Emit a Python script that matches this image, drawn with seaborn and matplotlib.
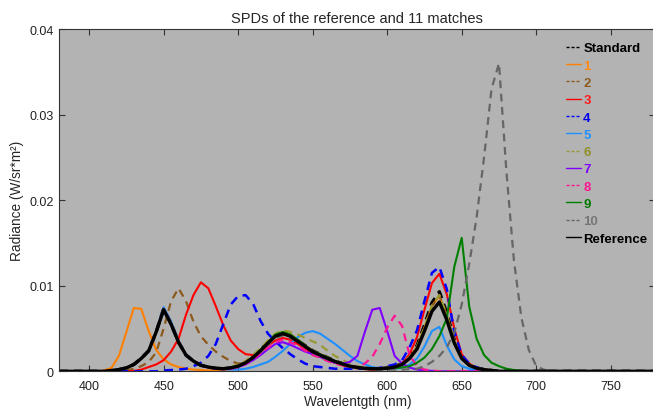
import matplotlib
matplotlib.use("Agg")
import matplotlib.pyplot as plt
from matplotlib.lines import Line2D
import pandas as pd
import seaborn as sns

# --- DATA (radiance in 1e-3 W/sr*m², sampled every 5 nm) ---
wavelength = list(range(380, 781, 5))
pad_lo = [0.0] * 5     # 380-400 nm
pad_hi = [0.0] * 15    # 710-780 nm

# each list below covers 405..705 nm
spd_standard = pad_lo + [
    0, 0, 0.1, 0.2, 0.4, 0.8, 1.5, 2.4, 4.6, 7.3,
    5.6, 3.4, 1.9, 1.2, 0.7, 0.5, 0.35, 0.3, 0.4, 0.6,
    1.0, 1.7, 2.5, 3.4, 4.2, 4.5, 4.2, 3.6, 3.0, 2.4,
    2.0, 1.6, 1.2, 0.9, 0.6, 0.45, 0.35, 0.3, 0.3, 0.4,
    0.55, 0.9, 1.7, 3.0, 5.4, 8.0, 9.3, 6.8, 3.7, 1.7,
    0.8, 0.4, 0.2, 0.1, 0, 0, 0, 0, 0, 0,
    0] + pad_hi

spd_1 = pad_lo + [
    0, 0.1, 0.4, 1.8, 4.6, 7.4, 7.3, 4.7, 2.5, 1.4,
    0.8, 0.5, 0.3, 0.2, 0.15, 0.1, 0.1, 0.15, 0.25, 0.55,
    1.0, 1.7, 2.5, 3.4, 4.3, 4.6, 4.3, 3.7, 3.0, 2.4,
    2.0, 1.6, 1.2, 0.9, 0.6, 0.45, 0.3, 0.25, 0.25, 0.35,
    0.5, 0.85, 1.6, 2.8, 5.1, 7.6, 8.8, 6.5, 3.6, 1.6,
    0.75, 0.4, 0.2, 0.1, 0, 0, 0, 0, 0, 0,
    0] + pad_hi

spd_2 = pad_lo + [
    0, 0, 0, 0, 0.1, 0.3, 0.6, 1.1, 2.2, 5.0,
    8.2, 9.7, 8.2, 5.8, 4.1, 3.1, 2.3, 1.7, 1.2, 0.9,
    1.0, 1.6, 2.4, 3.3, 4.1, 4.5, 4.2, 3.6, 3.0, 2.4,
    2.0, 1.6, 1.2, 0.9, 0.6, 0.45, 0.35, 0.3, 0.3, 0.35,
    0.5, 0.85, 1.6, 2.8, 5.1, 7.6, 8.9, 6.5, 3.6, 1.6,
    0.75, 0.4, 0.2, 0.1, 0, 0, 0, 0, 0, 0,
    0] + pad_hi

spd_3 = pad_lo + [
    0, 0, 0, 0, 0, 0.05, 0.2, 0.5, 0.8, 1.3,
    2.3, 3.8, 6.6, 8.9, 10.4, 9.7, 7.6, 5.4, 3.6, 2.6,
    2.0, 1.9, 2.3, 3.0, 3.6, 3.9, 3.7, 3.2, 2.6, 2.1,
    1.7, 1.3, 1.0, 0.7, 0.5, 0.35, 0.25, 0.2, 0.25, 0.4,
    0.55, 0.9, 2.0, 4.0, 7.2, 10.3, 11.4, 9.0, 5.0, 2.0,
    0.9, 0.4, 0.2, 0.1, 0, 0, 0, 0, 0, 0,
    0] + pad_hi

spd_4 = pad_lo + [
    0, 0, 0, 0, 0, 0, 0, 0, 0, 0.1,
    0.15, 0.2, 0.3, 0.6, 1.0, 1.8, 3.2, 5.5, 7.8, 8.8,
    8.9, 7.9, 5.9, 4.4, 3.5, 2.7, 2.0, 1.4, 0.9, 0.6,
    0.5, 0.4, 0.3, 0.3, 0.3, 0.3, 0.3, 0.3, 0.4, 0.6,
    0.8, 1.3, 2.8, 4.8, 8.2, 11.5, 12.2, 9.6, 4.6, 1.9,
    0.9, 0.45, 0.2, 0.1, 0, 0, 0, 0, 0, 0,
    0] + pad_hi

spd_5 = pad_lo + [
    0, 0, 0.1, 0.2, 0.45, 0.8, 1.5, 2.4, 4.7, 7.5,
    5.8, 3.5, 2.0, 1.2, 0.7, 0.45, 0.3, 0.25, 0.2, 0.2,
    0.3, 0.5, 0.8, 1.1, 1.7, 2.4, 3.2, 4.0, 4.5, 4.7,
    4.4, 3.8, 3.2, 2.5, 1.8, 1.2, 0.8, 0.5, 0.35, 0.3,
    0.3, 0.4, 0.8, 1.5, 2.9, 4.7, 5.2, 3.0, 1.4, 0.6,
    0.3, 0.15, 0.05, 0, 0, 0, 0, 0, 0, 0,
    0] + pad_hi

spd_6 = pad_lo + [
    0, 0, 0.1, 0.2, 0.4, 0.8, 1.5, 2.4, 4.6, 7.3,
    5.6, 3.4, 1.9, 1.2, 0.7, 0.5, 0.4, 0.4, 0.5, 0.8,
    1.2, 1.9, 2.7, 3.6, 4.4, 4.8, 4.6, 4.3, 3.9, 3.5,
    3.1, 2.4, 1.8, 1.3, 0.9, 0.6, 0.45, 0.35, 0.35, 0.4,
    0.55, 0.9, 1.7, 2.9, 5.2, 7.7, 8.9, 6.6, 3.6, 1.6,
    0.75, 0.4, 0.2, 0.1, 0, 0, 0, 0, 0, 0,
    0] + pad_hi

spd_7 = pad_lo + [
    0, 0, 0.1, 0.2, 0.4, 0.8, 1.5, 2.4, 4.6, 7.3,
    5.6, 3.4, 1.9, 1.2, 0.7, 0.45, 0.3, 0.25, 0.3, 0.5,
    0.8, 1.3, 1.9, 2.6, 3.2, 3.4, 3.1, 2.7, 2.3, 2.0,
    1.7, 1.3, 1.0, 0.9, 1.1, 1.8, 4.6, 7.2, 7.4, 4.7,
    1.8, 0.9, 0.45, 0.2, 0.1, 0.05, 0, 0, 0, 0,
    0, 0, 0, 0, 0, 0, 0, 0, 0, 0,
    0] + pad_hi

spd_8 = pad_lo + [
    0, 0, 0.1, 0.2, 0.4, 0.8, 1.5, 2.4, 4.6, 7.3,
    5.6, 3.4, 1.9, 1.2, 0.7, 0.45, 0.3, 0.25, 0.3, 0.5,
    0.9, 1.4, 2.1, 2.8, 3.4, 3.7, 3.4, 3.0, 2.4, 1.9,
    1.6, 1.2, 0.9, 0.7, 0.55, 0.5, 0.9, 1.7, 3.2, 5.1,
    6.5, 5.3, 1.9, 0.6, 0.2, 0.1, 0, 0, 0, 0,
    0, 0, 0, 0, 0, 0, 0, 0, 0, 0,
    0] + pad_hi

spd_9 = pad_lo + [
    0, 0, 0.1, 0.2, 0.4, 0.8, 1.5, 2.4, 4.6, 7.3,
    5.6, 3.4, 1.9, 1.2, 0.7, 0.5, 0.35, 0.3, 0.4, 0.6,
    1.0, 1.7, 2.5, 3.4, 4.3, 4.6, 4.3, 3.7, 3.0, 2.4,
    2.0, 1.6, 1.2, 0.9, 0.6, 0.45, 0.35, 0.3, 0.3, 0.3,
    0.35, 0.45, 0.6, 1.0, 1.6, 2.6, 4.1, 6.2, 12.2, 15.6,
    7.6, 3.8, 1.9, 1.0, 0.6, 0.3, 0.15, 0.05, 0, 0,
    0] + pad_hi

spd_10 = pad_lo + [
    0, 0, 0.1, 0.2, 0.4, 0.8, 1.5, 2.3, 4.5, 7.1,
    5.4, 3.3, 1.8, 1.1, 0.7, 0.45, 0.35, 0.3, 0.4, 0.6,
    1.0, 1.6, 2.3, 3.1, 3.9, 4.2, 3.9, 3.4, 2.8, 2.2,
    1.8, 1.4, 1.1, 0.8, 0.5, 0.4, 0.3, 0.2, 0.2, 0.2,
    0.2, 0.2, 0.25, 0.3, 0.6, 1.1, 1.8, 2.8, 4.5, 7.8,
    12.5, 18.0, 25.0, 33.0, 36.0, 23.3, 13.0, 6.3, 2.5, 0.6,
    0.2] + pad_hi

spd_reference = pad_lo + [
    0, 0, 0.1, 0.2, 0.4, 0.8, 1.5, 2.4, 4.6, 7.2,
    5.5, 3.4, 1.9, 1.2, 0.7, 0.5, 0.35, 0.3, 0.4, 0.6,
    1.0, 1.6, 2.4, 3.3, 4.1, 4.4, 4.1, 3.5, 2.9, 2.3,
    1.9, 1.5, 1.15, 0.85, 0.6, 0.45, 0.35, 0.3, 0.3, 0.35,
    0.5, 0.8, 1.5, 2.6, 4.7, 7.0, 8.1, 6.0, 3.3, 1.5,
    0.7, 0.35, 0.2, 0.1, 0, 0, 0, 0, 0, 0,
    0] + pad_hi

curve_names = ["Standard", "1", "2", "3", "4", "5", "6", "7", "8", "9", "10", "Reference"]
curve_values = [spd_standard, spd_1, spd_2, spd_3, spd_4, spd_5, spd_6,
                spd_7, spd_8, spd_9, spd_10, spd_reference]

x_ticks = [400, 450, 500, 550, 600, 650, 700, 750]
y_ticks = [0, 0.01, 0.02, 0.03, 0.04]
y_tick_labels = ["0", "0.01", "0.02", "0.03", "0.04"]

# --- STYLE ---
estilos = {
    "Standard":  dict(color="black",   ls="--", lw=2.4, txt="black"),
    "1":         dict(color="#ff8000", ls="-",  lw=1.5, txt="#ff8c1a"),
    "2":         dict(color="#8c5a1e", ls="--", lw=1.6, txt="#8c5a1e"),
    "3":         dict(color="#ff0000", ls="-",  lw=1.5, txt="#ff1a1a"),
    "4":         dict(color="#0000ff", ls="--", lw=1.8, txt="#0000ee"),
    "5":         dict(color="#1e90ff", ls="-",  lw=1.5, txt="#1e90ff"),
    "6":         dict(color="#999933", ls="--", lw=1.6, txt="#8f8f2a"),
    "7":         dict(color="#8000ff", ls="-",  lw=1.5, txt="#8000ff"),
    "8":         dict(color="#ff1493", ls="--", lw=1.6, txt="#ff1493"),
    "9":         dict(color="#008000", ls="-",  lw=1.5, txt="#007a00"),
    "10":        dict(color="#666666", ls="--", lw=1.6, txt="#777777"),
    "Reference": dict(color="black",   ls="-",  lw=2.4, txt="black"),
}

registros = []
for nome, valores in zip(curve_names, curve_values):
    for wl, v in zip(wavelength, valores):
        registros.append({"wl": wl, "radiance": v / 1000.0, "curva": nome})
df = pd.DataFrame(registros)

sns.set_theme(style="ticks")
plt.rcParams["font.family"] = ["Liberation Sans", "DejaVu Sans"]

fig = plt.figure(figsize=(6.53, 4.14), dpi=100)
ax = fig.add_axes([0.0908, 0.1007, 0.913, 0.8268])
ax.set_facecolor("#b3b3b3")

for nome in curve_names:
    st = estilos[nome]
    sub = df[df["curva"] == nome]
    sns.lineplot(data=sub, x="wl", y="radiance", ax=ax, color=st["color"],
                 linestyle=st["ls"], linewidth=st["lw"], legend=False)
    line = ax.lines[-1]
    line.set_solid_joinstyle("round")
    line.set_dash_joinstyle("round")
    if st["ls"] == "--":
        line.set_dashes((3.5, 2.5) if st["lw"] < 2 else (2.6, 1.8))

ax.set_xlim(380, 780)
ax.set_ylim(0, 0.04)
ax.set_xticks(x_ticks)
ax.set_yticks(y_ticks)
ax.set_yticklabels(y_tick_labels)
ax.tick_params(direction="in", top=True, right=True, length=4, width=0.8,
               color="#333333", labelsize=9, labelcolor="#222222")
ax.tick_params(axis="x", pad=6)
ax.tick_params(axis="y", pad=4)
for sp in ax.spines.values():
    sp.set_color("#333333")
    sp.set_linewidth(0.8)

ax.set_title("SPDs of the reference and 11 matches", fontsize=10.5, pad=5)
ax.set_xlabel("Wavelentgth (nm)", fontsize=9.8, labelpad=2)
ax.set_ylabel("Radiance (W/sr*m²)", fontsize=9.8, labelpad=4)

# thin legend handles, like the original
handles = []
for nome in curve_names:
    st = estilos[nome]
    h = Line2D([], [], color=st["color"], lw=1.0, ls=st["ls"])
    if st["ls"] == "--":
        h.set_dashes((2.2, 1.4))
    handles.append(h)

leg = ax.legend(handles, curve_names, loc="upper left", bbox_to_anchor=(0.85, 0.962),
                frameon=False, borderpad=0, borderaxespad=0, handlelength=1.1,
                handletextpad=0.2, labelspacing=0.385,
                prop={"weight": "bold", "size": 9.5})
for txt, nome in zip(leg.get_texts(), curve_names):
    txt.set_color(estilos[nome]["txt"])

fig.savefig("out.png", dpi=100)
